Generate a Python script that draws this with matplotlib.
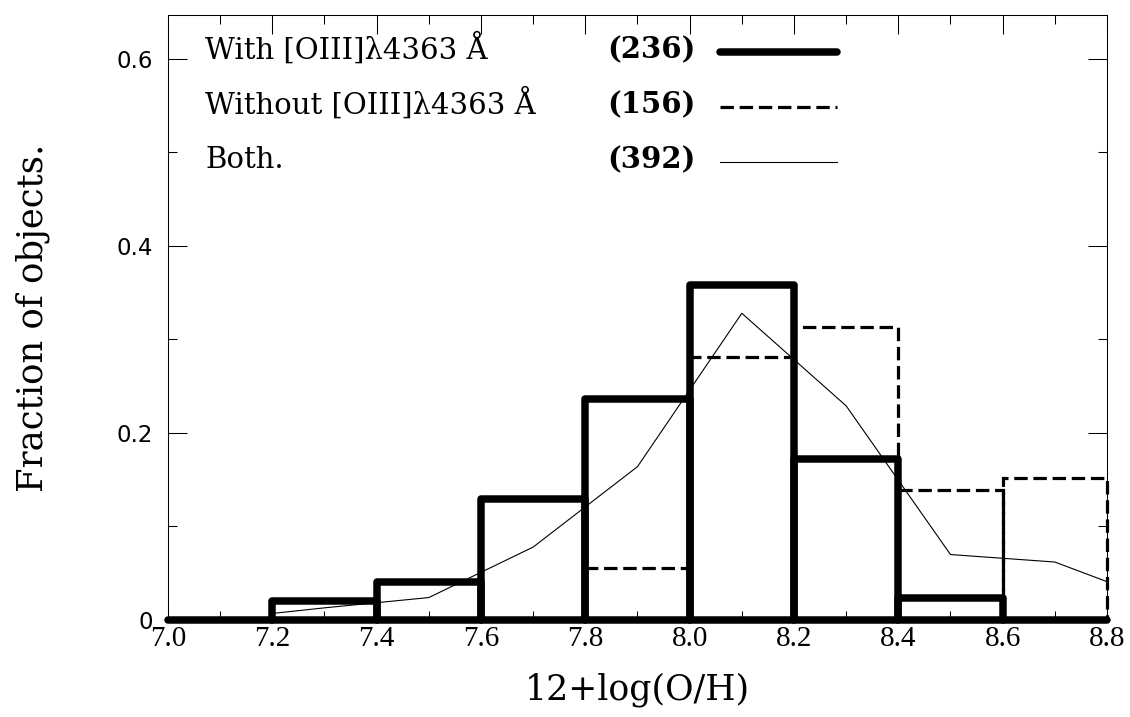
import matplotlib
matplotlib.use("Agg")
import matplotlib.pyplot as plt
from matplotlib.ticker import MultipleLocator

# Oxygen abundance bins and fraction of objects per bin
bin_edges = [7.0, 7.2, 7.4, 7.6, 7.8, 8.0, 8.2, 8.4, 8.6, 8.8]
frac_with = [0.0, 0.020, 0.041, 0.129, 0.236, 0.358, 0.172, 0.024, 0.0]
frac_without = [0.0, 0.0, 0.0, 0.0, 0.056, 0.281, 0.313, 0.139, 0.152]

# Combined sample as a frequency polygon
both_x = [7.2, 7.3, 7.5, 7.7, 7.9, 8.1, 8.3, 8.5, 8.7, 8.8]
both_y = [0.007, 0.013, 0.024, 0.078, 0.164, 0.328, 0.229, 0.070, 0.062, 0.041]

legend_labels = ["With [OIII]λ4363 Å", "Without [OIII]λ4363 Å", "Both."]
legend_counts = [236, 156, 392]

x_ticks = [7.0, 7.2, 7.4, 7.6, 7.8, 8.0, 8.2, 8.4, 8.6, 8.8]
y_ticks = [0.0, 0.2, 0.4, 0.6]
y_tick_labels = ["0", "0.2", "0.4", "0.6"]

SERIF = "DejaVu Serif"
DASH = (0, (4.2, 1.8))

fig = plt.figure(figsize=(11.3, 7.17), dpi=100)
ax = fig.add_axes([0.14867, 0.13529, 0.83097, 0.84379])

widths = [b - a for a, b in zip(bin_edges[:-1], bin_edges[1:])]

# thin polygon underneath
ax.plot(both_x, both_y, color="black", lw=0.8, zorder=1)

# dashed histogram, each bin outlined as a box
ax.bar(bin_edges[:-1], frac_without, width=widths, align="edge",
       fill=False, edgecolor="black", lw=2.3, linestyle=DASH,
       zorder=2, clip_on=False)

# thick histogram on top
ax.bar(bin_edges[:-1], frac_with, width=widths, align="edge",
       fill=False, edgecolor="black", lw=5.4, joinstyle="round",
       capstyle="round", zorder=3, clip_on=False)

ax.set_xlim(7.0, 8.8)
ax.set_ylim(0.0, 0.647)

ax.set_xticks(x_ticks, labels=[f"{v:.1f}" for v in x_ticks],
              fontfamily="Liberation Serif", fontsize=21)
ax.set_yticks(y_ticks, labels=y_tick_labels,
              fontfamily="DejaVu Sans", fontsize=16.5)
ax.xaxis.set_minor_locator(MultipleLocator(0.1))
ax.yaxis.set_minor_locator(MultipleLocator(0.1))

ax.tick_params(which="both", direction="in", top=True, right=True,
               width=0.75, color="black")
ax.tick_params(which="major", length=13.5)
ax.tick_params(which="minor", length=6.5)
ax.tick_params(axis="x", which="major", pad=4.5)
ax.tick_params(axis="y", which="major", pad=11)

for sp in ax.spines.values():
    sp.set_linewidth(0.75)

ax.set_xlabel("12+log(O/H)", fontfamily=SERIF, fontsize=25,
              va="center")
ax.xaxis.set_label_coords(0.5, -0.1157)
ax.set_ylabel("Fraction of objects.", fontfamily=SERIF, fontsize=25.5,
              va="center")
ax.yaxis.set_label_coords(-0.1438, 0.5)

# key: label, count and line sample for each sample
text_base = [0.9284, 0.8375, 0.7466]
line_y = [0.9393, 0.8484, 0.7575]
styles = [dict(lw=5.4, ls="-", solid_capstyle="round"),
          dict(lw=2.3, ls=DASH),
          dict(lw=0.8, ls="-")]
for lab, cnt, tb, ly, st in zip(legend_labels, legend_counts,
                                text_base, line_y, styles):
    ax.text(0.0394, tb, lab, transform=ax.transAxes, fontfamily=SERIF,
            fontsize=21, ha="left", va="baseline")
    ax.text(0.5144, tb, f"({cnt})", transform=ax.transAxes,
            fontfamily=SERIF, fontsize=21, fontweight="bold",
            ha="center", va="baseline")
    ax.plot([0.5879, 0.7125], [ly, ly], transform=ax.transAxes,
            color="black", **st)

fig.savefig("out.png", dpi=100)
